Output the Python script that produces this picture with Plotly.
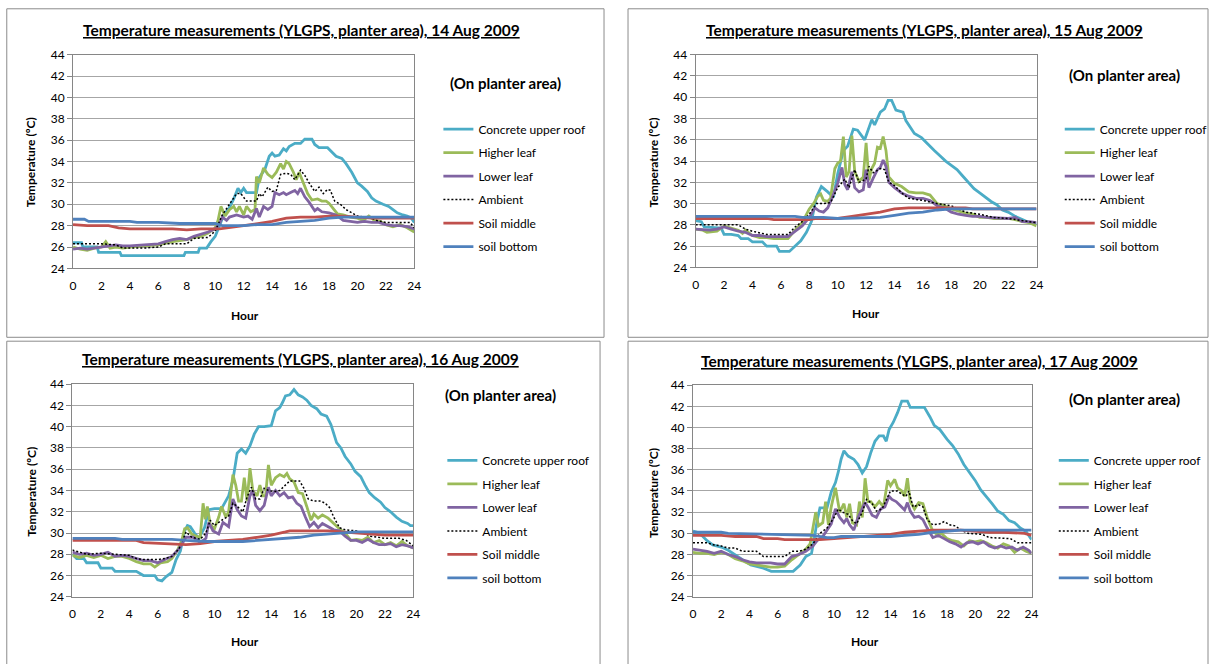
import plotly.graph_objects as go

# ---------------------------------------------------------------
# Logged temperatures (hour of day, degC) on the planter area, one
# set of six sensor series per day, 14-17 Aug 2009.
# ---------------------------------------------------------------

# ---- 14 Aug 2009 ----
CONCRETE_14 = [(0, 26.4), (0.6, 26.4), (0.7, 26.0), (1.7, 26.0), (1.8, 25.5), (3.3, 25.5), (3.4, 25.2),
               (7.8, 25.2), (7.9, 25.5), (8.8, 25.5), (8.9, 25.9), (9.4, 25.9), (9.7, 26.5), (10.0, 27.0),
               (10.3, 28.0), (10.6, 29.0), (11.0, 29.7), (11.3, 30.5), (11.6, 31.5), (11.8, 31.1), (12.0, 31.5),
               (12.2, 31.1), (12.9, 31.1), (13.1, 32.5), (13.5, 33.3), (13.8, 34.5), (14.0, 34.8), (14.2, 34.5),
               (14.5, 34.6), (14.8, 35.2), (15.0, 35.0), (15.2, 35.4), (15.6, 35.7), (16.0, 35.7), (16.3, 36.1),
               (16.8, 36.1), (17.0, 35.6), (17.3, 35.3), (17.9, 35.3), (18.2, 34.9), (18.5, 34.5), (18.9, 34.3),
               (19.2, 33.8), (19.6, 33.0), (20.0, 32.0), (20.3, 31.7), (20.7, 31.2), (21.0, 30.6), (21.3, 30.3),
               (21.8, 30.0), (22.2, 29.8), (22.5, 29.5), (22.8, 29.2), (23.2, 29.0), (23.5, 28.9), (23.8, 28.7),
               (24, 28.3)]
HIGHER_14 = [(0, 26.0), (0.5, 25.8), (1, 25.7), (1.5, 25.9), (2, 26.0), (2.3, 26.5), (2.6, 25.9), (3, 26.0),
             (3.5, 25.9), (4, 26.0), (5, 26.1), (6, 26.2), (7, 26.5), (7.5, 26.6), (8, 26.7), (8.5, 26.9),
             (9, 27.0), (9.5, 27.3), (10, 27.8), (10.2, 28.5), (10.4, 29.8), (10.7, 28.9), (11.0, 29.5),
             (11.3, 29.8), (11.5, 29.3), (11.7, 29.8), (12.0, 29.0), (12.2, 29.8), (12.5, 29.3), (12.8, 29.5),
             (12.9, 32.6), (13.1, 32.0), (13.4, 33.4), (13.7, 32.8), (14.0, 32.5), (14.3, 33.0), (14.6, 33.8),
             (14.8, 33.3), (15.0, 34.0), (15.2, 33.8), (15.5, 33.0), (15.7, 32.3), (15.9, 33.0), (16.2, 32.0),
             (16.5, 31.0), (16.8, 30.4), (17.2, 30.5), (17.5, 30.3), (17.8, 30.3), (18.0, 30.1), (18.3, 29.6),
             (18.6, 29.1), (19.0, 29.0), (19.5, 28.8), (20.0, 28.7), (20.4, 28.5), (20.8, 28.9), (21.2, 28.5),
             (21.6, 28.4), (22.0, 28.1), (22.5, 27.9), (23.0, 28.1), (23.5, 27.8), (24, 27.4)]
LOWER_14 = [(0, 25.8), (0.5, 25.9), (1, 25.8), (2, 26.0), (3, 26.2), (3.5, 26.1), (4, 26.1), (5, 26.2),
            (6, 26.3), (6.5, 26.5), (7, 26.7), (7.5, 26.8), (8, 26.7), (8.5, 27.0), (9, 27.2), (9.5, 27.4),
            (10, 27.7), (10.3, 28.2), (10.5, 28.8), (10.8, 28.5), (11, 28.8), (11.5, 29.0), (12, 28.8),
            (12.3, 28.9), (12.6, 28.6), (12.9, 29.6), (13.1, 28.8), (13.4, 29.8), (13.7, 29.5), (14.0, 29.8),
            (14.2, 31.1), (14.5, 30.9), (14.8, 31.1), (15.0, 30.9), (15.3, 31.1), (15.6, 31.3), (15.8, 31.0),
            (16.0, 31.5), (16.3, 30.7), (16.6, 30.2), (17.0, 29.4), (17.2, 29.6), (17.5, 29.3), (18.0, 29.2),
            (18.5, 29.0), (19.0, 28.5), (19.5, 28.4), (20.0, 28.3), (20.5, 28.4), (21.0, 28.3), (21.5, 28.3),
            (22.0, 28.1), (22.5, 28.0), (23.0, 28.0), (23.5, 27.9), (24, 27.7)]
AMBIENT_14 = [(0, 26.3), (1, 26.3), (2, 26.3), (3, 26.2), (3.5, 25.9), (5, 25.9), (6, 26.0), (6.5, 26.3),
              (8, 26.3), (8.5, 26.8), (9.5, 26.9), (10, 27.5), (10.5, 29.0), (11, 30.0), (11.5, 31.0),
              (11.8, 31.0), (12.2, 30.3), (12.9, 30.3), (13.1, 31.0), (13.3, 30.7), (13.7, 31.6), (14.0, 31.2),
              (14.3, 31.3), (14.6, 32.8), (15.0, 32.9), (15.3, 32.8), (15.6, 32.3), (16.0, 33.2), (16.3, 32.7),
              (16.6, 32.0), (17.0, 31.2), (17.3, 31.6), (17.6, 31.0), (17.9, 31.4), (18.1, 31.3), (18.4, 30.3),
              (18.8, 30.0), (19.2, 29.5), (19.6, 29.2), (20.0, 28.9), (20.5, 28.8), (21.0, 28.7), (21.3, 28.5),
              (22.0, 28.3), (23.0, 28.3), (23.7, 28.3), (24, 27.8)]
SOILMID_14 = [(0, 28.1), (1, 28.0), (2.5, 28.0), (3.2, 27.8), (4, 27.7), (7, 27.7), (8, 27.6), (9, 27.7),
              (10.3, 27.7), (11, 27.8), (12, 28.0), (13, 28.2), (14, 28.4), (15, 28.7), (16, 28.8), (17, 28.8),
              (18, 28.9), (19, 28.9), (20, 28.8), (21, 28.7), (24, 28.7)]
SOILBOT_14 = [(0, 28.6), (0.8, 28.6), (1.1, 28.4), (4, 28.4), (4.5, 28.3), (6, 28.3), (7.5, 28.2), (10, 28.2),
              (10.5, 28.0), (12, 28.0), (13, 28.1), (14, 28.1), (15, 28.3), (16, 28.4), (17, 28.5), (18, 28.7),
              (19, 28.8), (24, 28.8)]

# ---- 15 Aug 2009 ----
CONCRETE_15 = [(0, 28.4), (0.4, 28.3), (0.6, 27.8), (1.8, 27.7), (2.0, 27.1), (2.5, 27.1), (3.0, 27.0),
               (3.2, 26.7), (3.7, 26.7), (4.0, 26.4), (4.7, 26.4), (5.0, 26.0), (5.7, 26.0), (5.9, 25.5),
               (6.6, 25.5), (7.0, 26.0), (7.4, 26.5), (7.8, 27.3), (8.15, 28.3), (8.5, 30.6), (8.85, 31.6),
               (9.3, 31.1), (9.7, 30.6), (10.0, 32.8), (10.4, 35.0), (10.7, 35.4), (11.1, 37.0), (11.4, 36.9),
               (11.9, 36.0), (12.4, 37.9), (12.6, 37.4), (13.0, 38.6), (13.3, 38.9), (13.55, 39.7), (13.8, 39.7),
               (14.1, 38.8), (14.6, 38.6), (14.8, 37.8), (15.4, 36.6), (15.9, 36.2), (16.4, 35.5), (16.8, 35.0),
               (17.2, 34.5), (17.6, 34.0), (18.0, 33.6), (18.4, 33.2), (18.8, 32.6), (19.2, 32.0), (19.6, 31.4),
               (20.0, 31.0), (20.4, 30.6), (20.8, 30.2), (21.2, 29.9), (21.6, 29.4), (22.0, 29.2), (22.5, 28.8),
               (23.0, 28.5), (23.5, 28.2), (24, 28.1)]
HIGHER_15 = [(0, 27.6), (0.5, 27.5), (0.8, 27.3), (1.5, 27.4), (2, 27.9), (2.5, 27.7), (3, 27.5), (3.3, 27.2),
             (3.5, 27.5), (4, 27.0), (4.5, 26.8), (5, 26.8), (5.5, 26.7), (6, 26.7), (6.5, 26.7), (7, 27.5),
             (7.5, 28.2), (8, 29.5), (8.3, 30.0), (8.6, 30.7), (8.8, 30.9), (9.0, 30.3), (9.3, 30.2), (9.5, 30.5),
             (9.8, 33.3), (10.0, 33.8), (10.2, 34.0), (10.4, 36.3), (10.6, 32.5), (10.8, 33.0), (11.0, 36.4),
             (11.2, 33.0), (11.5, 32.1), (11.8, 32.5), (12.0, 35.7), (12.2, 32.2), (12.4, 33.3), (12.6, 33.8),
             (12.8, 35.3), (13.0, 35.2), (13.2, 36.3), (13.4, 35.0), (13.6, 32.5), (14.0, 31.9), (14.5, 31.6),
             (15.0, 31.1), (15.5, 31.0), (16.0, 31.0), (16.5, 30.8), (17.0, 30.0), (17.5, 29.8), (18.0, 29.5),
             (18.5, 29.3), (19.0, 29.1), (19.5, 29.0), (20.0, 28.7), (20.5, 28.7), (21.0, 28.6), (22.0, 28.6),
             (22.5, 28.5), (23.0, 28.3), (23.5, 28.2), (24, 27.9)]
LOWER_15 = [(0, 27.6), (1, 27.5), (1.5, 27.6), (2, 27.8), (2.5, 27.6), (3, 27.4), (3.5, 27.3), (4, 27.0),
            (4.5, 27.0), (5, 26.9), (6.5, 26.9), (7, 27.4), (7.5, 27.9), (8, 28.7), (8.4, 29.6), (8.7, 29.3),
            (9.0, 29.2), (9.3, 29.6), (9.6, 30.5), (10.0, 31.9), (10.3, 33.4), (10.5, 31.8), (10.7, 31.3),
            (11.0, 33.0), (11.2, 31.5), (11.5, 31.1), (11.8, 31.3), (12.0, 33.2), (12.2, 31.5), (12.5, 32.4),
            (12.8, 33.2), (13.0, 33.4), (13.2, 34.1), (13.4, 33.5), (13.6, 32.0), (14.0, 31.5), (14.5, 31.0),
            (15.0, 30.7), (15.5, 30.5), (16.0, 30.5), (16.5, 30.3), (17.0, 29.8), (17.5, 29.6), (18.0, 29.2),
            (18.5, 29.0), (19.0, 28.9), (19.5, 28.8), (20.0, 28.8), (20.5, 28.7), (22.0, 28.6), (22.5, 28.7),
            (23.0, 28.3), (23.5, 28.3), (24, 28.2)]
AMBIENT_15 = [(0, 28.0), (3, 28.0), (3.5, 27.6), (4, 27.4), (5, 27.1), (6.5, 27.1), (7, 27.8), (7.5, 28.3),
              (8, 29.0), (8.5, 30.0), (9.0, 30.0), (9.5, 30.1), (10.0, 31.5), (10.5, 32.3), (10.8, 31.5),
              (11.2, 33.2), (11.5, 32.0), (12.0, 32.3), (12.2, 33.5), (12.5, 32.9), (13.0, 33.3), (13.3, 33.2),
              (13.6, 32.0), (14.0, 31.7), (14.5, 31.0), (15.0, 30.5), (16.0, 30.3), (17.0, 30.0), (18.0, 29.8),
              (19.0, 29.2), (20.0, 29.0), (21.0, 28.7), (22.0, 28.6), (23.0, 28.4), (24, 28.2)]
SOILMID_15 = [(0, 28.6), (5, 28.6), (5.5, 28.5), (8, 28.5), (8.5, 28.6), (10, 28.6), (11, 28.8), (12, 29.0),
              (13, 29.2), (14, 29.5), (15, 29.6), (19, 29.6), (19.5, 29.5), (24, 29.5)]
SOILBOT_15 = [(0, 28.8), (7, 28.8), (7.5, 28.7), (9, 28.7), (10, 28.6), (12, 28.7), (13, 28.7), (14, 28.9),
              (15, 29.1), (16, 29.2), (17, 29.4), (18, 29.5), (24, 29.5)]

# ---- 16 Aug 2009 ----
CONCRETE_16 = [(0, 28.0), (0.3, 27.6), (0.8, 27.6), (1.0, 27.2), (1.8, 27.2), (2.0, 26.7), (2.8, 26.7),
               (3.0, 26.4), (4.5, 26.4), (5.0, 26.0), (5.8, 26.0), (6.0, 25.6), (6.3, 25.5), (6.6, 25.9),
               (7.0, 26.3), (7.3, 27.5), (7.6, 28.3), (7.9, 30.2), (8.1, 30.7), (8.3, 30.6), (8.6, 30.0),
               (8.9, 29.5), (9.3, 30.5), (9.6, 32.2), (10.0, 32.3), (10.5, 32.3), (11.0, 33.5), (11.3, 35.0),
               (11.6, 37.5), (11.9, 37.9), (12.2, 37.5), (12.5, 38.2), (12.8, 39.3), (13.1, 40.0), (13.5, 40.0),
               (14.0, 40.1), (14.3, 41.5), (14.6, 41.8), (14.8, 42.3), (15.0, 42.9), (15.3, 43.0), (15.6, 43.5),
               (15.9, 43.0), (16.2, 42.8), (16.5, 42.5), (16.8, 42.0), (17.2, 41.7), (17.5, 41.2), (17.9, 41.0),
               (18.2, 40.2), (18.6, 38.5), (18.9, 38.0), (19.2, 37.2), (19.6, 36.5), (19.9, 35.8), (20.3, 35.3),
               (20.6, 34.5), (20.9, 33.8), (21.3, 33.3), (21.7, 32.9), (22.0, 32.4), (22.4, 32.0), (22.8, 31.5),
               (23.2, 31.1), (23.6, 30.9), (23.8, 30.7), (24, 30.7)]
HIGHER_16 = [(0, 27.9), (0.5, 27.7), (1, 27.9), (1.5, 27.7), (2, 27.9), (2.5, 27.6), (3, 27.8), (3.5, 27.8),
             (4, 27.6), (4.5, 27.3), (5, 27.1), (5.5, 27.1), (5.8, 26.8), (6.2, 27.2), (6.7, 27.3), (7.0, 27.6),
             (7.4, 28.4), (7.7, 29.3), (7.9, 30.4), (8.1, 30.5), (8.4, 29.9), (8.7, 29.7), (9.0, 29.6),
             (9.2, 32.8), (9.35, 31.3), (9.5, 32.5), (9.7, 30.8), (10.0, 30.4), (10.3, 31.5), (10.5, 32.5),
             (10.8, 31.5), (11.0, 32.0), (11.3, 35.5), (11.5, 34.5), (11.7, 33.0), (11.9, 33.0), (12.1, 35.2),
             (12.3, 33.0), (12.5, 36.1), (12.7, 34.0), (13.0, 33.5), (13.2, 34.5), (13.4, 33.5), (13.6, 33.5),
             (13.8, 36.4), (14.0, 34.5), (14.3, 35.2), (14.6, 35.5), (14.9, 35.3), (15.1, 35.6), (15.3, 35.1),
             (15.6, 34.8), (15.9, 33.8), (16.2, 33.7), (16.5, 32.5), (16.8, 31.2), (17.0, 31.8), (17.3, 31.4),
             (17.6, 31.7), (18.0, 31.4), (18.4, 30.9), (18.8, 30.4), (19.2, 30.0), (19.6, 29.3), (20.0, 29.4),
             (20.4, 29.3), (20.8, 29.6), (21.2, 29.1), (21.6, 29.3), (22.0, 28.9), (22.4, 29.1), (22.8, 28.8),
             (23.2, 29.2), (23.6, 28.8), (24, 28.6)]
LOWER_16 = [(0, 28.2), (0.5, 28.0), (1, 28.1), (1.5, 27.9), (2, 28.0), (2.5, 28.2), (3, 27.8), (3.5, 27.9),
            (4, 27.8), (4.5, 27.6), (5, 27.4), (5.5, 27.4), (6, 27.2), (6.5, 27.5), (7.0, 27.8), (7.5, 28.5),
            (8.0, 29.6), (8.5, 29.6), (9.0, 29.1), (9.4, 29.5), (9.6, 31.0), (9.9, 30.2), (10.3, 29.9),
            (10.6, 31.0), (11.0, 30.6), (11.3, 33.2), (11.6, 32.2), (11.9, 31.6), (12.2, 31.4), (12.5, 33.5),
            (12.7, 34.0), (12.9, 32.6), (13.2, 32.1), (13.5, 32.6), (13.8, 34.3), (14.0, 33.5), (14.3, 34.0),
            (14.6, 33.5), (14.9, 33.8), (15.2, 33.3), (15.5, 33.4), (15.8, 32.8), (16.1, 32.5), (16.4, 31.5),
            (16.7, 30.6), (17.0, 31.0), (17.3, 30.5), (17.6, 30.9), (18.0, 30.6), (18.4, 30.3), (18.8, 30.2),
            (19.2, 29.7), (19.6, 29.3), (20.0, 29.3), (20.4, 29.1), (20.8, 29.4), (21.2, 29.1), (21.6, 28.9),
            (22.0, 28.9), (22.4, 29.0), (22.8, 28.7), (23.2, 28.9), (23.6, 28.8), (24, 28.6)]
AMBIENT_16 = [(0, 28.4), (0.5, 28.2), (1, 28.0), (2, 28.1), (3, 28.0), (4, 27.9), (4.5, 27.6), (5, 27.5),
              (6, 27.5), (6.5, 27.6), (7.0, 27.8), (7.5, 28.5), (8.0, 30.1), (8.4, 29.6), (9.0, 29.4),
              (9.4, 30.0), (9.7, 31.2), (10.0, 30.7), (10.5, 31.2), (11.0, 31.6), (11.3, 32.8), (11.6, 32.5),
              (12.0, 32.0), (12.3, 33.4), (12.6, 34.3), (12.9, 33.2), (13.2, 33.2), (13.5, 34.2), (13.8, 34.0),
              (14.2, 33.9), (14.6, 34.0), (15.0, 34.5), (15.3, 34.9), (16.0, 34.9), (16.3, 34.2), (16.6, 33.2),
              (17.0, 33.0), (17.5, 33.0), (17.8, 32.8), (18.1, 32.4), (18.4, 31.5), (18.8, 30.5), (19.2, 30.3),
              (20.0, 30.2), (20.5, 30.0), (21.0, 29.7), (21.5, 29.6), (22.0, 29.5), (23.0, 29.5), (23.5, 29.3),
              (24, 28.8)]
SOILMID_16 = [(0, 29.3), (4.5, 29.3), (5, 29.1), (7, 29.0), (8, 28.9), (9, 29.0), (9.5, 29.1), (10, 29.2),
              (11, 29.3), (12, 29.4), (13, 29.6), (14, 29.8), (15, 30.1), (15.3, 30.2), (18, 30.2), (19, 30.1),
              (20, 30.0), (21, 29.9), (22, 29.8), (24, 29.8)]
SOILBOT_16 = [(0, 29.5), (3, 29.5), (3.5, 29.4), (7, 29.4), (8, 29.3), (9.5, 29.2), (12, 29.2), (13, 29.3),
              (14, 29.4), (15, 29.5), (16, 29.6), (17, 29.8), (18, 29.9), (19, 30.0), (20, 30.1), (24, 30.1)]

# ---- 17 Aug 2009 ----
CONCRETE_17 = [(0, 30.2), (0.3, 30.1), (0.7, 29.7), (1.0, 29.3), (1.4, 28.9), (2.0, 28.7), (2.5, 28.4),
               (3.2, 27.8), (3.6, 27.5), (4.1, 27.0), (5.0, 26.7), (5.55, 26.4), (7.1, 26.4), (7.6, 27.0),
               (8.0, 27.8), (8.4, 28.1), (8.6, 29.5), (8.8, 31.2), (9.0, 32.4), (9.5, 32.4), (9.8, 33.9),
               (10.1, 34.8), (10.3, 35.8), (10.5, 37.0), (10.7, 37.8), (11.0, 37.3), (11.4, 37.0), (11.7, 36.5),
               (12.0, 35.7), (12.3, 36.3), (12.6, 37.6), (12.9, 38.7), (13.2, 39.2), (13.5, 39.2), (13.7, 38.7),
               (13.9, 39.8), (14.2, 40.5), (14.5, 41.4), (14.8, 42.5), (15.2, 42.5), (15.4, 41.9), (16.4, 41.9),
               (16.8, 41.0), (17.1, 40.2), (17.5, 39.8), (18.0, 38.9), (18.4, 38.3), (18.8, 37.5), (19.2, 36.5),
               (19.6, 35.8), (20.0, 35.0), (20.4, 34.1), (20.8, 33.5), (21.2, 32.8), (21.6, 32.1), (22.0, 31.8),
               (22.4, 31.2), (22.8, 31.0), (23.2, 30.5), (23.6, 30.2), (24, 29.4)]
HIGHER_17 = [(0, 28.2), (0.5, 28.1), (1, 28.1), (1.5, 28.0), (2, 28.2), (2.5, 28.0), (3, 27.6), (3.5, 27.4),
             (4, 27.1), (4.5, 27.0), (5, 26.9), (5.5, 26.8), (6, 26.8), (6.5, 26.9), (7.0, 27.5), (7.5, 28.0),
             (8.0, 28.5), (8.3, 29.0), (8.5, 30.5), (8.7, 32.0), (8.9, 30.7), (9.2, 31.0), (9.4, 33.0),
             (9.6, 30.8), (9.8, 32.5), (10.1, 34.3), (10.4, 32.0), (10.7, 32.8), (10.9, 31.5), (11.1, 32.8),
             (11.3, 31.0), (11.6, 30.8), (11.8, 33.0), (12.0, 31.5), (12.2, 35.2), (12.4, 33.0), (12.6, 33.0),
             (12.9, 32.5), (13.2, 33.0), (13.5, 32.5), (13.8, 35.0), (14.0, 34.5), (14.3, 35.1), (14.5, 34.3),
             (14.8, 34.0), (15.0, 33.5), (15.2, 35.2), (15.4, 33.0), (15.7, 32.3), (16.0, 32.9), (16.3, 32.8),
             (16.6, 31.5), (17.0, 30.2), (17.3, 29.9), (17.6, 30.0), (18.0, 29.5), (18.4, 29.3), (18.8, 29.2),
             (19.2, 28.8), (19.6, 29.3), (20.0, 29.2), (20.4, 29.3), (20.8, 29.1), (21.2, 28.8), (21.6, 28.6),
             (22.0, 29.0), (22.4, 28.8), (22.8, 28.2), (23.2, 28.6), (23.6, 28.3), (24, 28.1)]
LOWER_17 = [(0, 28.5), (0.5, 28.4), (1, 28.3), (1.5, 28.1), (2, 28.3), (2.5, 28.0), (3, 27.8), (3.5, 27.5),
            (4, 27.3), (4.5, 27.2), (5.5, 27.2), (6, 27.1), (6.5, 27.1), (7.0, 27.8), (7.5, 28.0), (8.0, 28.3),
            (8.5, 28.8), (8.8, 29.3), (9.2, 29.7), (9.5, 30.3), (9.8, 30.9), (10.1, 32.3), (10.4, 31.5),
            (10.7, 31.0), (10.9, 31.4), (11.1, 30.8), (11.4, 30.3), (11.7, 31.5), (12.0, 32.3), (12.2, 32.9),
            (12.4, 32.5), (12.7, 31.7), (13.0, 31.5), (13.3, 32.3), (13.6, 32.5), (13.9, 33.5), (14.1, 33.2),
            (14.4, 33.0), (14.7, 32.6), (15.0, 32.2), (15.2, 32.9), (15.4, 32.1), (15.7, 31.5), (16.0, 31.6),
            (16.3, 31.3), (16.6, 30.5), (17.0, 29.6), (17.4, 29.8), (17.8, 29.5), (18.2, 29.2), (18.6, 29.0),
            (19.0, 28.7), (19.4, 29.1), (19.8, 29.2), (20.2, 29.0), (20.6, 29.2), (21.0, 28.8), (21.4, 28.6),
            (21.8, 28.8), (22.2, 28.6), (22.6, 28.7), (23.0, 28.4), (23.4, 28.7), (23.8, 28.4), (24, 28.1)]
AMBIENT_17 = [(0, 29.1), (1, 29.1), (1.5, 28.9), (2, 28.8), (2.5, 28.6), (3, 28.6), (3.5, 28.3), (4.5, 28.3),
              (5, 27.8), (6.5, 27.8), (7.0, 28.3), (7.5, 28.3), (8.0, 28.5), (8.5, 29.0), (9.0, 30.0),
              (9.5, 30.5), (10.0, 31.5), (10.3, 32.3), (10.6, 32.0), (11.0, 31.8), (11.3, 31.2), (11.6, 30.9),
              (12.0, 32.0), (12.3, 33.2), (12.7, 32.8), (13.0, 32.1), (13.4, 32.3), (13.8, 33.5), (14.0, 34.0),
              (14.5, 34.0), (14.8, 33.7), (15.1, 33.5), (15.3, 34.0), (15.6, 32.5), (16.0, 32.7), (16.3, 32.5),
              (16.6, 31.3), (17.0, 30.8), (17.5, 30.9), (17.8, 31.1), (18.2, 30.8), (18.6, 30.7), (19.0, 30.3),
              (19.5, 30.0), (20.5, 29.9), (21.0, 29.6), (22.5, 29.5), (23.0, 29.1), (24, 29.1)]
SOILMID_17 = [(0, 29.8), (2, 29.8), (3, 29.7), (4.5, 29.7), (5, 29.5), (6, 29.5), (6.5, 29.4), (9, 29.4),
              (10, 29.5), (11, 29.6), (12, 29.7), (13, 29.8), (14, 29.9), (15, 30.1), (16, 30.2), (17, 30.3),
              (19, 30.3), (20, 30.2), (21, 30.1), (22, 30.1), (23.5, 30.0), (24, 29.8)]
SOILBOT_17 = [(0, 30.1), (2, 30.1), (2.5, 30.0), (5, 29.9), (6.5, 29.9), (7.5, 29.8), (8.5, 29.8), (9.5, 29.6),
              (10, 29.6), (10.5, 29.7), (14, 29.7), (15, 29.8), (16, 29.9), (17, 30.1), (18, 30.2), (19, 30.3),
              (24, 30.3)]

DAYS = ["14 Aug 2009", "15 Aug 2009", "16 Aug 2009", "17 Aug 2009"]
SERIES_NAMES = ["Concrete upper roof", "Higher leaf", "Lower leaf", "Ambient", "Soil middle", "soil bottom"]
DAY_SERIES = [
    [CONCRETE_14, HIGHER_14, LOWER_14, AMBIENT_14, SOILMID_14, SOILBOT_14],
    [CONCRETE_15, HIGHER_15, LOWER_15, AMBIENT_15, SOILMID_15, SOILBOT_15],
    [CONCRETE_16, HIGHER_16, LOWER_16, AMBIENT_16, SOILMID_16, SOILBOT_16],
    [CONCRETE_17, HIGHER_17, LOWER_17, AMBIENT_17, SOILMID_17, SOILBOT_17],
]
HOUR_TICKS = [0, 2, 4, 6, 8, 10, 12, 14, 16, 18, 20, 22, 24]
TEMP_TICKS = [24, 26, 28, 30, 32, 34, 36, 38, 40, 42, 44]

# ---------------------------------------------------------------
# Styling / layout
# ---------------------------------------------------------------
W, H = 1216, 664
FONT = "Lato, 'Open Sans', sans-serif"
STYLES = [
    dict(color="#4BACC6", width=2.8, dash="solid"),
    dict(color="#9BBB59", width=2.8, dash="solid"),
    dict(color="#8064A2", width=2.8, dash="solid"),
    dict(color="#000000", width=1.5, dash="2px,2px"),
    dict(color="#C0504D", width=2.8, dash="solid"),
    dict(color="#4F81BD", width=2.8, dash="solid"),
]


def px_x(v):
    return v / W


def px_y(v):
    return 1 - v / H


# per panel pixel geometry: plot box, frame, title, note, legend, axis titles
PANELS = [
    dict(box=(70.6, 414.7, 47.8, 266.4), frame=(3.8, 606, 0.8, 336.9), title=(301, 22.3),
         note=(506.3, 76.4), legend=(439, 109), ytitle=(28, 158.1), xtitle=(244.5, 314.4)),
    dict(box=(698.4, 1042.1, 47.8, 265.4), frame=(630.2, 1215, 0.8, 336.9), title=(929.3, 22.3),
         note=(1130.7, 68.2), legend=(1065.5, 109), ytitle=(656.4, 158.1), xtitle=(869.9, 312.4)),
    dict(box=(70.0, 413.7, 384.9, 602.4), frame=(3.8, 602, 340.9, 672), title=(299.9, 359.3),
         note=(501.3, 396.1), legend=(443, 448), ytitle=(28, 495.2), xtitle=(244.5, 648.4)),
    dict(box=(695.7, 1037.1, 385.9, 602.4), frame=(630.2, 1215, 340.9, 672), title=(924.3, 361.4),
         note=(1130.7, 400.2), legend=(1059.5, 448), ytitle=(656.4, 496.2), xtitle=(868.9, 648.4)),
]

fig = go.Figure()
annotations = []
shapes = []
layout_axes = {}

for i, (day, series, pan) in enumerate(zip(DAYS, DAY_SERIES, PANELS)):
    n = i + 1
    xa = "x" if n == 1 else f"x{n}"
    ya = "y" if n == 1 else f"y{n}"
    leg = "legend" if n == 1 else f"legend{n}"

    for name, pts, sty in zip(SERIES_NAMES, series, STYLES):
        fig.add_trace(go.Scatter(
            x=[p[0] for p in pts], y=[p[1] for p in pts], mode="lines", name=name,
            line=dict(color=sty["color"], width=sty["width"], dash=sty["dash"]),
            xaxis=xa, yaxis=ya, legend=leg, legendgroup=f"{n}-{name}",
            hoverinfo="x+y+name",
        ))

    x0, x1, y0, y1 = pan["box"]
    axis_common = dict(showline=True, mirror=True, linecolor="#868686", linewidth=1,
                       tickfont=dict(family=FONT, size=12, color="#000000"),
                       zeroline=False, fixedrange=True)
    layout_axes["xaxis" if n == 1 else f"xaxis{n}"] = dict(
        axis_common, domain=[px_x(x0), px_x(x1)], range=[0, 24], tickvals=HOUR_TICKS,
        ticks="", ticklabelstandoff=6, showgrid=False, anchor=ya)
    layout_axes["yaxis" if n == 1 else f"yaxis{n}"] = dict(
        axis_common, domain=[px_y(y1), px_y(y0)], range=[24, 44], tickvals=TEMP_TICKS,
        ticks="outside", ticklen=5, tickcolor="#868686",
        showgrid=True, gridcolor="#A6A6A6", gridwidth=1, anchor=xa)

    lx, ly = pan["legend"]
    layout_axes[leg] = dict(
        x=px_x(lx), y=px_y(ly), xanchor="left", yanchor="top", xref="paper", yref="paper",
        font=dict(family=FONT, size=12, color="#000000"), bgcolor="rgba(0,0,0,0)",
        itemwidth=30, traceorder="grouped", tracegroupgap=4.5, itemclick=False, itemdoubleclick=False)

    fx0, fx1, fy0, fy1 = pan["frame"]
    shapes.append(dict(type="rect", xref="paper", yref="paper", x0=px_x(fx0), x1=px_x(fx1),
                       y0=px_y(fy1), y1=px_y(fy0), line=dict(color="#8C8C8C", width=1), layer="below"))

    tx, ty = pan["title"]
    annotations.append(dict(text=f"<b><u>Temperature measurements (YLGPS, planter area), {day}</u></b>",
                            x=px_x(tx), y=px_y(ty), xref="paper", yref="paper", showarrow=False,
                            xanchor="center", yanchor="middle",
                            font=dict(family=FONT, size=15.5, color="#000000")))
    nx, ny = pan["note"]
    annotations.append(dict(text="<b>(On planter area)</b>", x=px_x(nx), y=px_y(ny), xref="paper",
                            yref="paper", showarrow=False, xanchor="center", yanchor="middle",
                            font=dict(family=FONT, size=15, color="#000000")))
    yx, yy = pan["ytitle"]
    annotations.append(dict(text="<b>Temperature (ºC)</b>", x=px_x(yx), y=px_y(yy), xref="paper",
                            yref="paper", showarrow=False, textangle=-90, xanchor="center",
                            yanchor="middle", font=dict(family=FONT, size=12, color="#000000")))
    hx, hy = pan["xtitle"]
    annotations.append(dict(text="<b>Hour</b>", x=px_x(hx), y=px_y(hy), xref="paper", yref="paper",
                            showarrow=False, xanchor="center", yanchor="middle",
                            font=dict(family=FONT, size=12, color="#000000")))

fig.update_layout(
    width=W, height=H, margin=dict(l=0, r=0, t=0, b=0),
    paper_bgcolor="#FFFFFF", plot_bgcolor="#FFFFFF",
    font=dict(family=FONT, color="#000000"),
    annotations=annotations, shapes=shapes, **layout_axes,
)

fig.write_html("out.html", config={"displayModeBar": False})
